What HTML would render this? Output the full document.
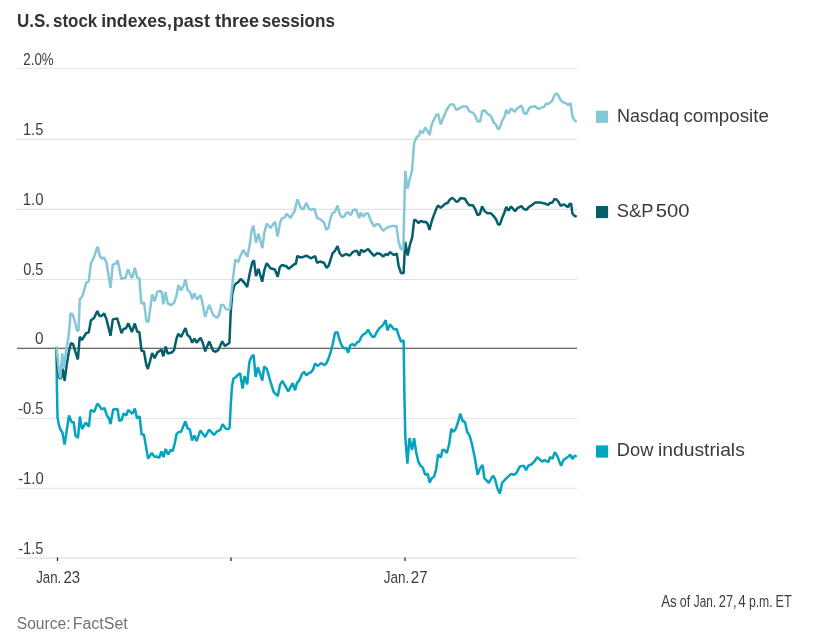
<!DOCTYPE html>
<html><head><meta charset="utf-8"><title>U.S. stock indexes, past three sessions</title>
<style>
html,body{margin:0;padding:0;background:#fff;}
body{width:817px;height:643px;overflow:hidden;font-family:"Liberation Sans",sans-serif;}
svg{display:block;will-change:transform;}
text{font-family:"Liberation Sans",sans-serif;}
</style></head><body>
<svg width="817" height="643" viewBox="0 0 817 643">
<g id="grid">
<line x1="17" x2="577" y1="68.3" y2="68.3" stroke="#e2e2e2" stroke-width="1.1"/>
<line x1="17" x2="577" y1="139.4" y2="139.4" stroke="#e2e2e2" stroke-width="1.1"/>
<line x1="17" x2="577" y1="209.4" y2="209.4" stroke="#e2e2e2" stroke-width="1.1"/>
<line x1="17" x2="577" y1="279.5" y2="279.5" stroke="#e2e2e2" stroke-width="1.1"/>
<line x1="17" x2="577" y1="418.3" y2="418.3" stroke="#e2e2e2" stroke-width="1.1"/>
<line x1="17" x2="577" y1="488.2" y2="488.2" stroke="#e2e2e2" stroke-width="1.1"/>
<line x1="17" x2="577" y1="558.1" y2="558.1" stroke="#e2e2e2" stroke-width="1.1"/>
<line x1="17" x2="577" y1="348.2" y2="348.2" stroke="#3a3a3a" stroke-width="1.15"/>
<line x1="57.5" x2="57.5" y1="557.4" y2="561" stroke="#2a2a2a" stroke-width="1.3"/>
<line x1="231" x2="231" y1="557.4" y2="561" stroke="#2a2a2a" stroke-width="1.3"/>
<line x1="405" x2="405" y1="557.4" y2="561" stroke="#2a2a2a" stroke-width="1.3"/>
</g>
<g id="series" fill="none" stroke-linejoin="bevel" stroke-linecap="round">
<path d="M56.6,348.0 L56.8,380.0 L57.5,417.4 L58.8,424.6 L60.3,429.3 L62.4,432.5 L64.6,444.5 L66.7,430.9 L69.0,415.5 L71.5,422.2 L73.6,422.0 L75.5,435.7 L78.0,437.8 L79.9,416.5 L82.0,429.1 L85.8,422.6 L88.9,426.7 L90.7,409.8 L94.3,411.8 L97.2,404.0 L98.6,404.6 L101.7,409.4 L104.5,408.0 L107.0,415.8 L108.9,418.2 L110.5,424.1 L113.2,409.4 L117.5,408.9 L119.3,420.9 L121.6,420.1 L123.6,413.3 L126.2,415.7 L128.2,409.8 L132.5,413.8 L134.9,408.4 L137.0,418.6 L139.6,416.1 L141.6,434.6 L143.9,434.4 L148.1,458.6 L151.8,452.8 L154.2,456.7 L156.6,456.4 L159.1,457.9 L161.4,451.5 L163.4,457.1 L165.6,448.9 L168.1,454.5 L170.8,449.7 L172.7,451.1 L174.9,442.8 L176.5,434.1 L178.5,432.2 L181.0,431.7 L185.3,421.5 L187.7,428.5 L189.8,429.3 L192.1,440.4 L194.4,435.4 L196.6,441.1 L200.4,430.4 L205.2,436.9 L209.1,429.7 L214.0,434.9 L216.7,431.7 L220.3,429.8 L222.6,424.1 L225.6,428.5 L228.3,429.3 L229.6,427.7 L230.7,405.5 L232.0,386.4 L233.5,378.4 L235.5,377.6 L237.8,374.9 L240.1,373.2 L242.6,388.5 L244.6,376.0 L247.2,384.3 L249.3,362.5 L251.4,356.9 L253.6,354.8 L255.6,376.9 L258.0,367.4 L262.3,380.5 L264.2,366.5 L266.8,368.9 L270.5,381.6 L273.6,391.9 L277.8,396.1 L280.0,384.8 L282.4,380.8 L288.3,391.3 L292.7,383.1 L295.1,390.3 L297.0,382.7 L299.1,380.8 L301.9,374.2 L304.0,371.8 L306.4,375.3 L308.8,373.1 L310.8,372.3 L313.0,369.9 L315.0,363.5 L317.5,365.9 L321.5,363.1 L323.9,365.1 L326.3,363.6 L328.3,359.1 L330.5,352.7 L332.6,344.8 L335.0,332.8 L337.5,332.2 L339.8,340.8 L342.2,346.4 L344.2,348.3 L346.1,348.0 L348.3,352.6 L350.1,345.6 L352.5,344.0 L354.6,345.9 L357.0,342.4 L359.2,341.6 L361.3,336.8 L363.6,334.1 L365.7,333.3 L368.1,329.6 L370.0,333.3 L372.4,336.8 L374.5,336.8 L377.2,331.3 L379.6,328.1 L383.1,324.9 L385.7,320.2 L387.4,330.4 L390.2,324.4 L393.9,329.2 L396.6,328.9 L398.6,335.2 L400.9,341.5 L403.6,340.5 L404.5,400.0 L405.3,436.6 L407.4,463.7 L409.5,438.1 L412.0,450.1 L414.1,438.1 L416.2,452.5 L418.5,462.1 L420.5,465.6 L422.8,467.6 L425.1,474.7 L427.8,473.8 L429.6,482.6 L431.9,478.0 L434.0,476.7 L436.0,470.0 L438.1,454.4 L440.8,457.5 L442.6,449.6 L444.6,450.1 L446.8,453.0 L449.1,444.6 L451.3,428.8 L453.6,431.9 L455.9,428.6 L458.2,421.5 L460.2,413.6 L462.6,421.0 L465.0,422.0 L467.4,432.6 L469.5,435.3 L471.7,443.0 L474.6,456.5 L477.6,474.8 L480.1,468.4 L482.5,464.9 L484.4,478.2 L488.8,482.8 L493.0,475.7 L495.0,479.0 L497.5,488.5 L499.9,493.6 L502.1,482.8 L506.0,478.6 L511.0,474.0 L514.6,474.7 L516.8,472.4 L519.8,466.5 L523.8,465.8 L526.1,470.2 L528.5,465.4 L530.9,464.9 L534.9,460.9 L537.2,457.1 L539.7,459.3 L542.1,461.7 L544.4,460.1 L548.5,462.0 L549.9,457.1 L552.5,458.8 L554.7,452.1 L556.9,455.3 L561.1,465.8 L563.5,460.1 L567.5,457.3 L570.3,454.6 L572.3,458.9 L574.7,455.7 L575.8,456.1" stroke="#04a3be" stroke-width="2.5"/>
<path d="M56.6,348.0 L57.2,366.4 L59.5,378.3 L61.1,378.3 L62.7,368.7 L64.6,380.8 L66.7,364.8 L69.1,350.5 L71.0,343.0 L73.1,344.1 L75.5,352.1 L77.9,359.5 L79.7,336.8 L81.8,340.0 L86.3,333.0 L88.7,332.6 L90.9,320.5 L94.2,317.8 L97.3,310.9 L99.6,316.3 L101.7,315.8 L104.2,313.5 L106.5,319.4 L110.5,335.8 L112.8,319.4 L117.2,318.4 L121.5,333.2 L123.5,329.0 L126.0,328.2 L128.3,323.3 L131.9,332.0 L134.8,323.5 L137.2,331.7 L139.4,332.2 L141.5,350.8 L143.9,351.3 L146.3,364.8 L147.9,369.0 L152.2,353.0 L154.7,358.1 L157.4,352.4 L161.5,349.7 L163.3,356.3 L165.7,346.6 L167.6,353.5 L171.7,352.5 L174.1,350.1 L176.6,338.2 L178.4,333.8 L181.1,337.0 L185.4,328.0 L187.4,335.0 L189.8,336.9 L192.2,342.7 L194.4,338.5 L196.6,342.6 L200.6,337.8 L202.8,343.0 L205.2,351.3 L209.2,341.6 L213.2,350.9 L215.6,351.7 L218.3,350.1 L222.3,341.3 L225.0,346.1 L229.4,343.0 L230.7,312.7 L232.3,293.6 L234.2,285.7 L236.3,283.3 L238.2,282.2 L240.6,279.0 L244.2,282.5 L247.2,287.1 L249.8,273.0 L252.2,262.6 L254.0,260.4 L256.0,276.2 L258.5,268.8 L262.2,281.7 L264.4,269.8 L266.7,263.2 L270.5,268.2 L274.9,269.5 L277.7,276.8 L279.7,267.4 L281.9,265.0 L286.4,266.3 L288.8,268.8 L294.3,264.2 L295.9,263.7 L297.3,255.9 L299.9,257.4 L304.0,256.7 L306.4,255.6 L310.8,258.3 L315.2,256.1 L317.1,263.0 L319.9,261.5 L323.9,262.7 L326.6,267.9 L328.6,265.9 L332.6,253.2 L335.0,250.8 L337.5,246.2 L339.8,253.5 L342.2,256.1 L346.1,254.0 L349.6,255.6 L353.3,251.6 L357.0,250.8 L359.2,255.7 L361.2,249.6 L363.6,251.9 L368.1,249.0 L370.8,252.4 L374.0,255.9 L377.2,253.2 L380.4,254.0 L383.2,256.7 L385.6,254.0 L387.5,255.1 L390.2,252.1 L393.9,255.1 L396.8,253.7 L398.6,265.9 L401.0,273.1 L403.6,273.3 L405.2,241.9 L407.6,255.5 L409.8,245.2 L412.2,237.3 L414.2,219.6 L416.5,220.9 L418.5,223.1 L420.8,220.8 L423.3,222.0 L425.5,221.7 L427.6,223.6 L429.5,230.0 L431.9,220.5 L434.0,214.9 L436.4,208.5 L437.9,205.5 L440.7,207.7 L442.7,206.1 L445.1,203.8 L447.5,203.0 L449.9,199.5 L452.0,197.9 L453.9,199.0 L456.3,201.8 L458.2,201.4 L460.2,198.2 L464.7,198.5 L467.4,203.0 L469.5,205.3 L473.0,205.3 L475.3,209.3 L477.6,215.2 L479.8,214.1 L482.1,206.3 L484.4,210.9 L487.3,213.3 L490.9,213.3 L493.6,216.0 L496.0,219.2 L498.1,224.4 L500.0,224.4 L502.2,217.8 L504.4,212.5 L506.3,207.0 L508.5,210.5 L511.1,206.5 L515.1,211.2 L517.5,208.1 L521.5,206.1 L523.9,209.0 L526.3,209.8 L529.0,206.9 L531.0,205.8 L535.3,202.6 L540.9,202.6 L545.7,203.8 L548.1,204.9 L550.1,203.0 L552.4,202.6 L554.4,199.0 L556.5,199.5 L558.4,201.7 L560.7,206.0 L563.5,204.2 L568.1,207.1 L569.7,203.7 L571.2,204.0 L572.4,213.5 L574.3,215.7 L575.8,216.2" stroke="#045f6b" stroke-width="2.5"/>
<path d="M56.6,348.0 L58.8,369.6 L60.3,378.4 L62.2,353.4 L63.8,367.7 L66.0,352.0 L68.3,337.7 L69.7,325.0 L70.5,313.6 L72.5,314.0 L74.7,320.9 L77.0,330.5 L78.5,330.7 L79.8,299.4 L82.3,296.3 L86.3,282.7 L88.7,281.6 L90.9,263.6 L94.6,255.7 L97.2,247.0 L98.2,248.0 L99.6,255.7 L101.7,258.5 L104.2,257.6 L106.5,262.8 L110.5,287.8 L112.8,264.4 L115.2,264.1 L117.7,260.3 L121.4,279.2 L123.2,278.0 L125.6,278.0 L127.9,269.3 L132.0,278.3 L134.8,267.9 L137.2,277.6 L139.4,278.3 L141.3,303.7 L144.1,302.3 L146.3,320.9 L148.4,322.1 L152.2,294.3 L154.7,301.3 L157.4,291.5 L161.6,291.3 L163.3,304.3 L165.4,292.3 L167.8,303.5 L171.4,305.0 L174.2,302.7 L176.5,295.5 L178.4,285.1 L181.0,290.5 L183.6,285.6 L185.5,279.4 L187.7,290.5 L190.1,292.0 L192.1,299.2 L194.3,293.2 L196.8,299.4 L200.6,295.2 L202.0,300.8 L205.1,316.7 L209.2,304.9 L213.2,315.1 L216.7,317.8 L218.8,315.9 L221.3,304.6 L223.5,305.1 L225.9,309.2 L229.8,309.4 L231.5,292.0 L233.1,277.7 L235.3,259.4 L238.3,262.2 L240.2,256.3 L243.4,249.9 L247.5,256.9 L249.8,244.3 L251.7,230.0 L253.4,225.8 L256.0,242.7 L258.5,233.7 L262.3,248.3 L264.4,232.4 L266.7,223.5 L270.5,227.9 L275.0,221.8 L277.6,236.5 L280.0,222.8 L281.9,218.5 L284.5,217.6 L286.7,213.7 L290.4,218.0 L294.7,210.9 L297.4,199.4 L300.7,207.7 L303.2,209.6 L306.4,202.9 L308.8,208.6 L311.1,209.9 L314.4,208.7 L317.2,218.2 L319.9,219.0 L323.9,222.2 L326.2,229.6 L328.3,228.5 L330.5,218.2 L332.6,213.1 L335.0,211.8 L337.4,205.6 L339.8,214.2 L342.2,217.4 L344.2,216.6 L346.5,212.6 L348.5,212.6 L350.7,215.1 L353.3,209.9 L356.0,209.4 L359.2,218.1 L360.8,212.6 L363.6,216.7 L365.6,213.4 L368.1,213.4 L370.8,220.6 L373.9,226.5 L376.4,224.2 L378.8,224.2 L383.2,230.9 L386.7,227.7 L391.5,226.1 L396.5,225.9 L398.6,242.0 L401.0,249.2 L403.3,249.4 L404.2,211.8 L405.2,171.0 L407.5,188.7 L409.6,179.5 L412.0,171.0 L414.1,143.1 L416.5,137.2 L418.9,135.9 L420.4,130.7 L422.9,133.1 L425.2,127.5 L427.6,131.1 L429.6,135.0 L431.9,124.0 L436.0,115.2 L438.2,114.1 L440.7,124.4 L442.7,119.2 L446.7,109.7 L449.9,104.9 L452.3,104.1 L453.9,104.9 L456.2,109.9 L458.6,108.9 L462.6,106.5 L466.6,106.5 L469.5,111.3 L473.0,112.8 L475.3,116.0 L477.7,121.6 L480.1,121.6 L482.2,111.3 L484.4,110.1 L487.3,113.6 L490.9,116.0 L493.6,122.4 L495.6,124.0 L498.0,129.3 L499.6,128.3 L502.2,120.5 L504.4,116.8 L506.3,109.9 L508.5,113.8 L511.0,108.5 L514.9,111.7 L517.5,108.1 L521.6,105.7 L523.9,113.0 L526.4,114.0 L529.0,108.2 L531.0,106.9 L535.3,106.3 L537.7,108.7 L540.1,108.2 L544.1,106.9 L546.0,103.7 L548.1,103.9 L552.1,101.0 L554.4,95.1 L556.5,93.5 L558.1,94.7 L560.0,99.0 L562.4,101.8 L565.6,103.1 L568.0,105.0 L570.5,103.3 L572.4,116.1 L574.3,120.1 L575.8,121.2" stroke="#85c7d6" stroke-width="2.5"/>
</g>
<g id="legend">
<rect x="596" y="110.75" width="12.1" height="12.1" fill="#85c7d6"/>
<rect x="596" y="206" width="12.1" height="12.1" fill="#045f6b"/>
<rect x="596" y="445.4" width="12.1" height="12.2" fill="#04a3be"/>
</g>
<g id="labels">
<text x="17.08" y="27.0" font-size="19" font-weight="bold" fill="#333333" textLength="33.01" lengthAdjust="spacingAndGlyphs">U.S.</text>
<text x="53.07" y="27.0" font-size="19" font-weight="bold" fill="#333333" textLength="44.17" lengthAdjust="spacingAndGlyphs">stock</text>
<text x="101.19" y="27.0" font-size="19" font-weight="bold" fill="#333333" textLength="70.62" lengthAdjust="spacingAndGlyphs">indexes,</text>
<text x="172.75" y="27.0" font-size="19" font-weight="bold" fill="#333333" textLength="37.19" lengthAdjust="spacingAndGlyphs">past</text>
<text x="214.88" y="27.0" font-size="19" font-weight="bold" fill="#333333" textLength="44.30" lengthAdjust="spacingAndGlyphs">three</text>
<text x="261.79" y="27.0" font-size="19" font-weight="bold" fill="#333333" textLength="73.13" lengthAdjust="spacingAndGlyphs">sessions</text>
<text x="23.29" y="65" font-size="16.7" fill="#3d3d3d" textLength="30.35" lengthAdjust="spacingAndGlyphs">2.0%</text>
<text x="22.93" y="135" font-size="16.7" fill="#3d3d3d" textLength="20.38" lengthAdjust="spacingAndGlyphs">1.5</text>
<text x="22.77" y="205" font-size="16.7" fill="#3d3d3d" textLength="20.84" lengthAdjust="spacingAndGlyphs">1.0</text>
<text x="23.18" y="275" font-size="16.7" fill="#3d3d3d" textLength="20.23" lengthAdjust="spacingAndGlyphs">0.5</text>
<text x="34.94" y="344" font-size="16.7" fill="#3d3d3d" textLength="8.49" lengthAdjust="spacingAndGlyphs">0</text>
<text x="18.04" y="414" font-size="16.7" fill="#3d3d3d" textLength="25.36" lengthAdjust="spacingAndGlyphs">-0.5</text>
<text x="18.16" y="484" font-size="16.7" fill="#3d3d3d" textLength="25.62" lengthAdjust="spacingAndGlyphs">-1.0</text>
<text x="18.16" y="554" font-size="16.7" fill="#3d3d3d" textLength="25.29" lengthAdjust="spacingAndGlyphs">-1.5</text>
<text x="36.19" y="582.7" font-size="16.7" fill="#3d3d3d" textLength="25.12" lengthAdjust="spacingAndGlyphs">Jan.</text>
<text x="63.45" y="582.7" font-size="16.7" fill="#3d3d3d" textLength="16.57" lengthAdjust="spacingAndGlyphs">23</text>
<text x="383.70" y="582.7" font-size="16.7" fill="#3d3d3d" textLength="25.52" lengthAdjust="spacingAndGlyphs">Jan.</text>
<text x="410.86" y="582.7" font-size="16.7" fill="#3d3d3d" textLength="16.74" lengthAdjust="spacingAndGlyphs">27</text>
<text x="616.95" y="121.5" font-size="17.5" fill="#3a3a3a" textLength="62.12" lengthAdjust="spacingAndGlyphs">Nasdaq</text>
<text x="683.40" y="121.5" font-size="17.5" fill="#3a3a3a" textLength="85.52" lengthAdjust="spacingAndGlyphs">composite</text>
<text x="616.88" y="217" font-size="17.5" fill="#3a3a3a" textLength="36.69" lengthAdjust="spacingAndGlyphs">S&amp;P</text>
<text x="655.83" y="217" font-size="17.5" fill="#3a3a3a" textLength="33.72" lengthAdjust="spacingAndGlyphs">500</text>
<text x="616.82" y="455.9" font-size="17.5" fill="#3a3a3a" textLength="36.53" lengthAdjust="spacingAndGlyphs">Dow</text>
<text x="658.00" y="455.9" font-size="17.5" fill="#3a3a3a" textLength="86.79" lengthAdjust="spacingAndGlyphs">industrials</text>
<text x="661.23" y="606.7" font-size="15.8" fill="#3d3d3d" textLength="15.48" lengthAdjust="spacingAndGlyphs">As</text>
<text x="679.76" y="606.7" font-size="15.8" fill="#3d3d3d" textLength="10.36" lengthAdjust="spacingAndGlyphs">of</text>
<text x="693.81" y="606.7" font-size="15.8" fill="#3d3d3d" textLength="22.35" lengthAdjust="spacingAndGlyphs">Jan.</text>
<text x="718.79" y="606.7" font-size="15.8" fill="#3d3d3d" textLength="17.87" lengthAdjust="spacingAndGlyphs">27,</text>
<text x="738.30" y="606.7" font-size="15.8" fill="#3d3d3d" textLength="7.53" lengthAdjust="spacingAndGlyphs">4</text>
<text x="748.90" y="606.7" font-size="15.8" fill="#3d3d3d" textLength="23.67" lengthAdjust="spacingAndGlyphs">p.m.</text>
<text x="775.60" y="606.7" font-size="15.8" fill="#3d3d3d" textLength="16.20" lengthAdjust="spacingAndGlyphs">ET</text>
<text x="16.75" y="628.7" font-size="16" fill="#727272" textLength="53.78" lengthAdjust="spacingAndGlyphs">Source:</text>
<text x="72.67" y="628.7" font-size="16" fill="#727272" textLength="55.05" lengthAdjust="spacingAndGlyphs">FactSet</text>
</g>
</svg></body></html>
